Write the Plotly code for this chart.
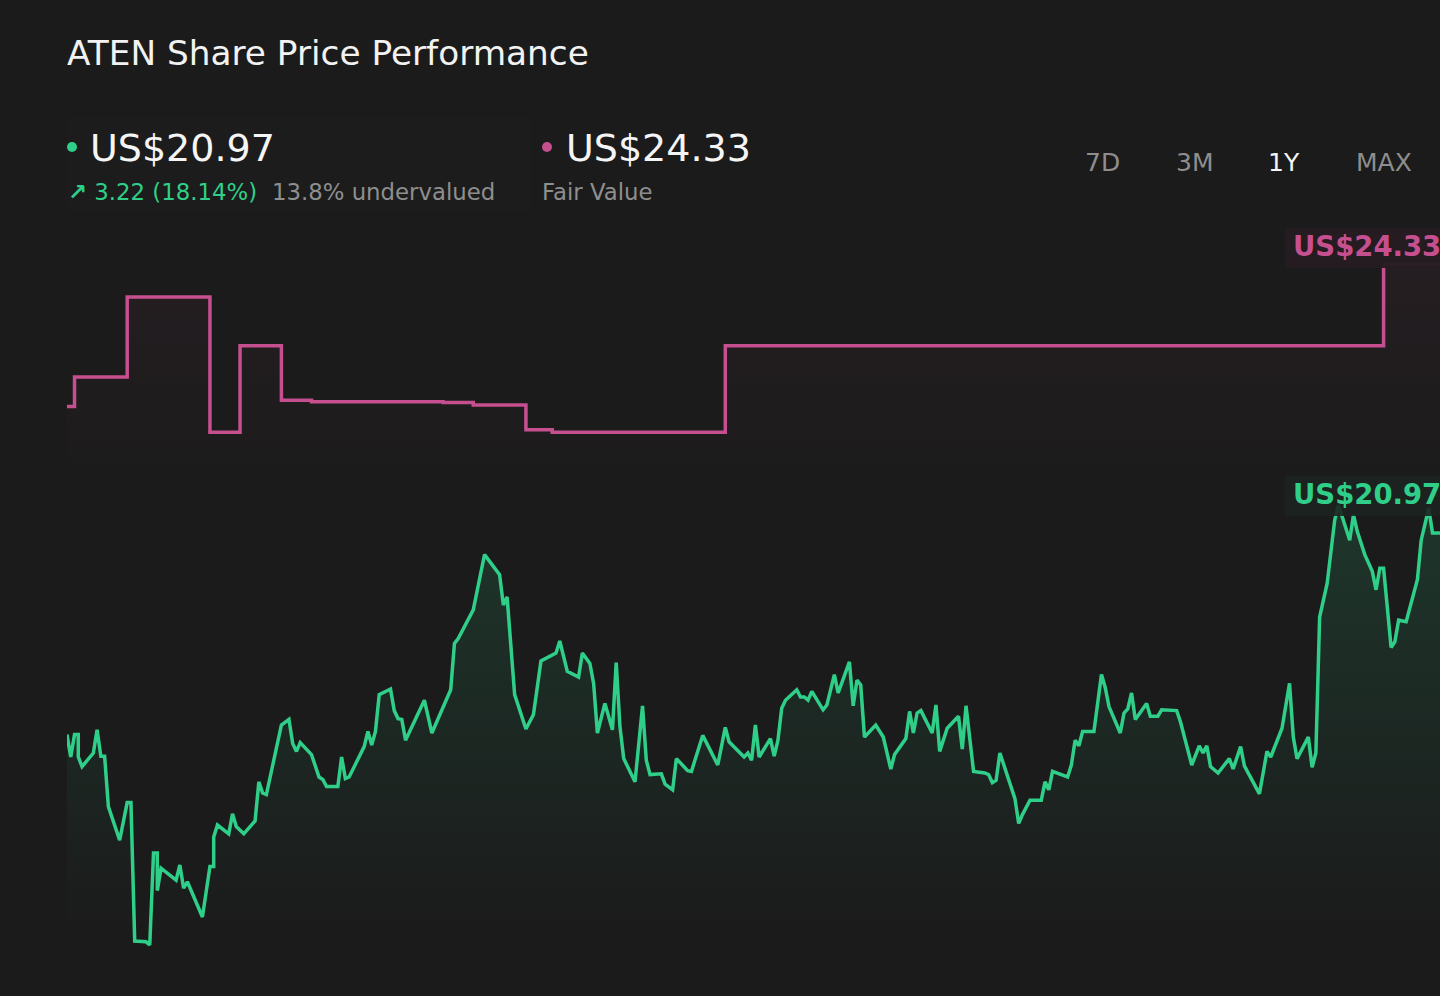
import plotly.graph_objects as go

# 1Y share price (days since start of window) and analyst fair value steps
days = [
    0, 1, 2, 3, 3, 4, 7, 8, 9, 10,
    11, 14, 16, 17, 18, 21, 22, 23, 24, 24,
    25, 29, 30, 31, 32, 36, 38, 39, 39, 40,
    43, 44, 45, 47, 50, 51, 52, 53, 57, 59,
    60, 61, 62, 65, 67, 68, 69, 72, 73, 74,
    75, 79, 80, 81, 82, 83, 86, 87, 88, 89,
    90, 93, 95, 97, 102, 103, 104, 108, 111, 115,
    116, 117, 119, 122, 123, 124, 126, 130, 131, 133,
    136, 137, 139, 140, 141, 143, 145, 146, 147, 148,
    151, 153, 154, 155, 158, 159, 161, 162, 165, 166,
    169, 173, 175, 176, 180, 181, 182, 183, 184, 187,
    188, 189, 190, 191, 194, 195, 196, 197, 198, 201,
    202, 204, 205, 208, 209, 210, 211, 212, 215, 217,
    219, 220, 223, 224, 225, 226, 227, 230, 231, 232,
    234, 237, 238, 239, 241, 244, 245, 246, 247, 248,
    252, 253, 254, 256, 259, 260, 261, 262, 266, 267,
    268, 269, 270, 273, 275, 276, 277, 280, 281, 282,
    283, 284, 287, 288, 290, 291, 295, 296, 299, 301,
    302, 303, 304, 306, 309, 310, 312, 313, 317, 319,
    320, 323, 325, 326, 327, 330, 331, 332, 333, 335,
    337, 338, 341, 342, 343, 345, 347, 348, 349, 350,
    352, 353, 354, 356, 359, 360, 362, 363, 365,
]
price = [
    18.45, 18.17, 18.45, 18.45, 18.17, 18.05, 18.22, 18.51, 18.18, 18.18,
    17.55, 17.13, 17.60, 17.60, 15.87, 15.86, 15.82, 16.97, 16.97, 16.50,
    16.78, 16.63, 16.82, 16.53, 16.61, 16.17, 16.80, 16.80, 17.17, 17.32,
    17.21, 17.46, 17.30, 17.21, 17.37, 17.86, 17.72, 17.70, 18.57, 18.64,
    18.34, 18.24, 18.35, 18.20, 17.92, 17.89, 17.80, 17.80, 18.17, 17.90,
    17.92, 18.30, 18.49, 18.32, 18.49, 18.95, 19.02, 18.75, 18.65, 18.64,
    18.38, 18.68, 18.88, 18.47, 19.01, 19.59, 19.65, 20.01, 20.70, 20.45,
    20.07, 20.17, 18.95, 18.52, 18.61, 18.70, 19.37, 19.47, 19.62, 19.24,
    19.17, 19.47, 19.34, 19.09, 18.47, 18.84, 18.51, 19.35, 18.55, 18.15,
    17.86, 18.81, 18.13, 17.95, 17.96, 17.83, 17.76, 18.15, 18.00, 17.99,
    18.44, 18.07, 18.54, 18.36, 18.17, 18.22, 18.13, 18.57, 18.17, 18.40,
    18.18, 18.38, 18.78, 18.88, 19.01, 18.92, 18.92, 18.88, 18.99, 18.76,
    18.82, 19.20, 18.97, 19.36, 18.81, 19.13, 19.07, 18.42, 18.57, 18.42,
    18.02, 18.20, 18.40, 18.74, 18.47, 18.72, 18.75, 18.47, 18.82, 18.24,
    18.53, 18.68, 18.27, 18.81, 17.99, 17.97, 17.95, 17.85, 17.88, 18.22,
    17.65, 17.34, 17.45, 17.63, 17.63, 17.86, 17.76, 17.99, 17.92, 18.07,
    18.38, 18.31, 18.49, 18.49, 19.20, 19.04, 18.80, 18.47, 18.72, 18.77,
    18.97, 18.64, 18.84, 18.68, 18.68, 18.76, 18.75, 18.61, 18.07, 18.31,
    18.22, 18.31, 18.05, 17.97, 18.15, 18.02, 18.30, 18.06, 17.71, 18.24,
    18.17, 18.53, 19.09, 18.42, 18.15, 18.42, 18.04, 18.22, 19.92, 20.34,
    21.13, 21.32, 20.88, 21.20, 20.99, 20.70, 20.49, 20.26, 20.53, 20.53,
    19.54, 19.61, 19.88, 19.86, 20.39, 20.88, 21.28, 20.97, 20.97,
]
assert len(days) == len(price)

fv_days = [0, 2, 16, 38, 46, 57, 65, 100, 108, 122, 129, 175, 350, 365]
fv_values = [22.55, 22.92, 23.92, 22.23, 23.31, 22.63, 22.61, 22.60, 22.57,
             22.26, 22.23, 23.31, 24.33, 24.33]

last_price = "US$20.97"
fair_value = "US$24.33"
change_text = "<b>↗</b> 3.22 (18.14%)"
valuation_text = "13.8% undervalued"
periods = ["7D", "3M", "1Y", "MAX"]
active_period = "1Y"

BG = "#1b1b1b"
GREEN = "#2fcf89"
PINK = "#c64f8f"
FONT = "DejaVu Sans, Verdana, sans-serif"

fig = go.Figure()

# fair value step line, with a faint tint under it
fig.add_trace(go.Scatter(
    x=fv_days, y=fv_values, mode="lines", line_shape="hv",
    line=dict(color=PINK, width=3.5),
    fill="tozeroy",
    fillgradient=dict(type="vertical", start=21.4, stop=24.4,
                      colorscale=[[0, "rgba(198,79,143,0)"], [1, "rgba(198,79,143,0.06)"]]),
    hoverinfo="skip",
))

# share price
fig.add_trace(go.Scatter(
    x=days, y=price, mode="lines",
    line=dict(color=GREEN, width=3.5),
    fill="tozeroy",
    fillgradient=dict(type="vertical", start=16.0, stop=21.3,
                      colorscale=[[0, "rgba(47,207,137,0)"], [1, "rgba(47,207,137,0.15)"]]),
    hoverinfo="skip",
))

W, H, L = 1440, 996, 67


def px(x):
    return (x - L) / (W - L)


def py(y):
    return 1 - y / H


annotations = [
    dict(text="ATEN Share Price Performance", x=px(65), y=py(53), xanchor="left",
         font=dict(size=34.3, color="#f2f2f2")),
    dict(text=last_price, x=px(88), y=py(148), xanchor="left",
         font=dict(size=38, color="#f5f5f5")),
    dict(text=fair_value, x=px(564), y=py(148), xanchor="left",
         font=dict(size=38, color="#f5f5f5")),
    dict(text=change_text, x=px(66), y=py(192), xanchor="left",
         font=dict(size=22.8, color=GREEN)),
    dict(text=valuation_text, x=px(270), y=py(192), xanchor="left",
         font=dict(size=22.8, color="#8e8e8e")),
    dict(text="Fair Value", x=px(540), y=py(192), xanchor="left",
         font=dict(size=22.8, color="#8e8e8e")),
    dict(text="<b>" + fair_value + "</b>", x=px(1291), y=py(246), xanchor="left",
         font=dict(size=27.5, color=PINK)),
    dict(text="<b>" + last_price + "</b>", x=px(1291), y=py(494), xanchor="left",
         font=dict(size=27.5, color=GREEN)),
]
for label, cx in zip(periods, [1102, 1194, 1284, 1384]):
    annotations.append(dict(
        text=label, x=px(cx), y=py(162), xanchor="center",
        font=dict(size=25, color="#f5f5f5" if label == active_period else "#8e8e8e"),
    ))
for a in annotations:
    a.update(xref="paper", yref="paper", yanchor="middle", showarrow=False)

shapes = [
    # header panel
    dict(type="rect", x0=px(67), x1=px(530), y0=py(212), y1=py(116),
         fillcolor="rgba(255,255,255,0.008)", line=dict(width=0), layer="below"),
    # legend dots
    dict(type="circle", x0=px(67), x1=px(77), y0=py(152), y1=py(142),
         fillcolor=GREEN, line=dict(width=0)),
    dict(type="circle", x0=px(542), x1=px(552), y0=py(152), y1=py(142),
         fillcolor=PINK, line=dict(width=0)),
    # label boxes at the right edge
    dict(type="rect", x0=px(1285), x1=px(1445), y0=py(268), y1=py(228),
         fillcolor="rgba(36,28,32,0.96)", line=dict(width=0), layer="above"),
    dict(type="rect", x0=px(1285), x1=px(1445), y0=py(516), y1=py(476),
         fillcolor="rgba(29,36,32,0.9)", line=dict(width=0), layer="above"),
]
for s in shapes:
    s.update(xref="paper", yref="paper")

fig.update_layout(
    width=W, height=H,
    paper_bgcolor=BG, plot_bgcolor=BG,
    margin=dict(l=L, r=0, t=0, b=0),
    font=dict(family=FONT),
    showlegend=False,
    xaxis=dict(range=[0, 365], visible=False, fixedrange=True),
    yaxis=dict(range=[20.97 - 463 / 80, 20.97 + 533 / 80], visible=False, fixedrange=True),
    annotations=annotations,
    shapes=shapes,
)

fig.write_html("out.html", config={"displayModeBar": False},
               post_script="document.body.style.margin='0';")
